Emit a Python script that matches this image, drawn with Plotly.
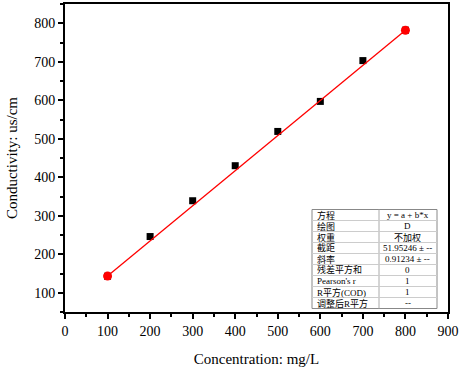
import plotly.graph_objects as go

conc = [100, 200, 300, 400, 500, 600, 700, 800]
cond = [143, 246, 339, 430, 519, 597, 703, 782]
intercept = 51.95246
slope = 0.91234
fit_x = [100, 800]
fit_y = [intercept + slope * v for v in fit_x]

table_labels = ["方程", "绘图", "权重", "截距", "斜率", "残差平方和", "Pearson's r", "R平方(COD)", "调整后R平方"]
table_values = ["y = a + b*x", "D", "不加权", "51.95246 ± --", "0.91234 ± --", "0", "1", "1", "--"]

W, H = 462, 367
L, R, T, B = 65, 14, 4, 55
pw, ph = W - L - R, H - T - B

def px_x(px):
    return (px - L) / pw

def px_y(py):
    return (H - B - py) / ph

fig = go.Figure()
fig.add_trace(go.Scatter(x=conc, y=cond, mode="markers",
                         marker=dict(symbol="square", size=7, color="black"), showlegend=False))
fig.add_trace(go.Scatter(x=fit_x, y=fit_y, mode="lines+markers",
                         line=dict(color="red", width=1.3),
                         marker=dict(symbol="circle", size=9, color="red"), showlegend=False))

serif = "Liberation Serif, Times New Roman, serif"
cjk = "Liberation Serif, Noto Sans CJK SC, serif"

axis_common = dict(showline=True, linecolor="black", linewidth=2, mirror=True,
                   ticks="outside", tickwidth=2, ticklen=5, tickcolor="black",
                   showgrid=False, zeroline=False, automargin=False,
                   tickfont=dict(family=serif, size=14, color="black"),
                   minor=dict(ticks="outside", ticklen=3, tickwidth=2, tickcolor="black", dtick=50))

fig.update_xaxes(range=[0, 900], dtick=100, **axis_common,
                 title=dict(text="Concentration: mg/L", font=dict(family=serif, size=15, color="black"), standoff=16))
fig.update_yaxes(range=[50, 850], tickvals=[100, 200, 300, 400, 500, 600, 700, 800], **axis_common,
                 title=dict(text="Conductivity: us/cm", font=dict(family=serif, size=15, color="black"), standoff=13))

# Table
tx0, tx1, txm = px_x(312), px_x(437), px_x(379)
ty_top = px_y(209.5)
row_h = 11.0 / ph
n = len(table_labels)
ty_bot = ty_top - n * row_h
shapes = [dict(type="rect", xref="paper", yref="paper", x0=tx0, x1=tx1, y0=ty_bot, y1=ty_top,
               line=dict(color="#888", width=1), fillcolor="white", layer="above")]
shapes.append(dict(type="line", xref="paper", yref="paper", x0=txm, x1=txm, y0=ty_bot, y1=ty_top,
                   line=dict(color="#aaa", width=1)))
annotations = []
for i, (lab, val) in enumerate(zip(table_labels, table_values)):
    yt = ty_top - i * row_h
    yc = yt - row_h / 2
    if i > 0:
        shapes.append(dict(type="line", xref="paper", yref="paper", x0=tx0, x1=tx1, y0=yt, y1=yt,
                           line=dict(color="#ccc", width=1)))
    annotations.append(dict(xref="paper", yref="paper", x=tx0 + 3 / pw, y=yc, text=lab, showarrow=False,
                            xanchor="left", yanchor="middle", font=dict(family=cjk, size=9, color="black")))
    annotations.append(dict(xref="paper", yref="paper", x=(txm + tx1) / 2, y=yc, text=val, showarrow=False,
                            xanchor="center", yanchor="middle", font=dict(family=cjk, size=9, color="black")))

fig.update_layout(width=W, height=H, margin=dict(l=L, r=R, t=T, b=B),
                  plot_bgcolor="white", paper_bgcolor="white",
                  shapes=shapes, annotations=annotations)

fig.write_html("out.html", config={"displayModeBar": False},
               post_script="document.body.style.margin='0';document.body.style.overflow='hidden';")
